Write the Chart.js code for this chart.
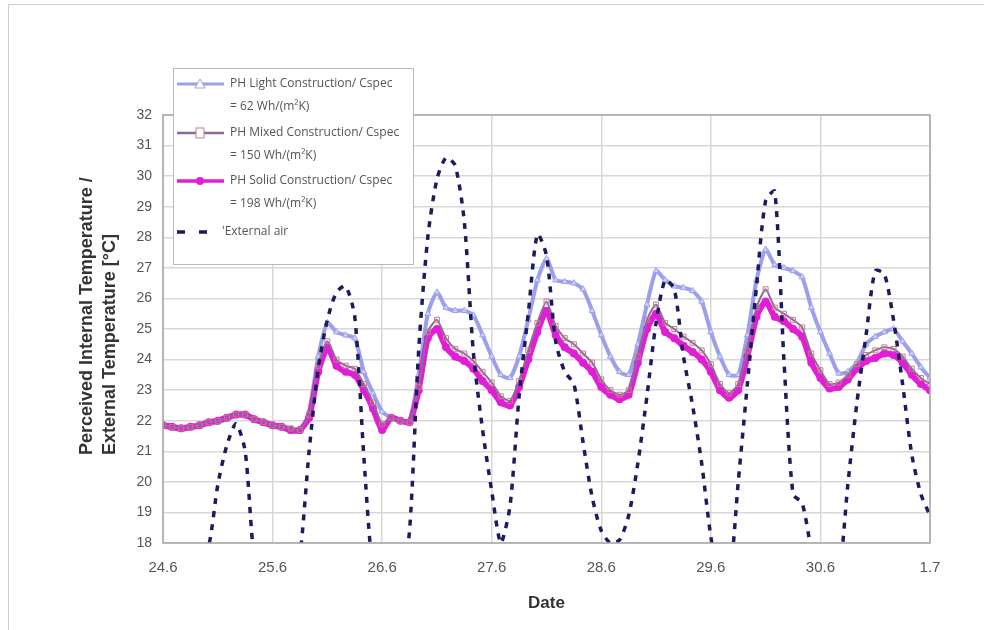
<!DOCTYPE html>
<html>
<head>
<meta charset="utf-8">
<script src="https://cdn.jsdelivr.net/npm/chart.js@4.4.0/dist/chart.umd.min.js"></script>
<style>
  html, body { margin: 0; padding: 0; background: #fff; }
  #wrap { position: relative; width: 984px; height: 630px; }
</style>
</head>
<body>
<div id="wrap"><canvas id="c" width="984" height="630"></canvas></div>
<script>
// date ticks, one per day
const dateLabels = ['24.6', '25.6', '26.6', '27.6', '28.6', '29.6', '30.6', '1.7'];

// readings every 2 hours, 24.6 00:00 .. 1.7 00:00
const lightC = [21.8, 21.75, 21.7, 21.75, 21.8, 21.9, 21.95, 22.05, 22.15, 22.15, 22.0, 21.9,
  21.8, 21.75, 21.65, 21.65, 22.3, 24.1, 25.2, 24.9, 24.8, 24.7, 23.6, 22.9,
  22.3, 22.1, 22.0, 22.0, 23.5, 25.5, 26.2, 25.7, 25.6, 25.6, 25.45, 24.8,
  24.1, 23.5, 23.4, 24.1, 25.3, 26.6, 27.3, 26.6, 26.55, 26.5, 26.3, 25.6,
  24.8, 24.1, 23.6, 23.5, 24.5, 25.8, 26.9, 26.6, 26.4, 26.35, 26.25, 25.9,
  24.9, 24.1, 23.5, 23.5, 24.8, 26.6, 27.6, 27.1, 27.0, 26.9, 26.7, 25.7,
  24.9, 24.2, 23.55, 23.6, 23.9, 24.5, 24.75, 24.9, 25.0, 24.6, 24.2, 23.75, 23.4];

const mixedC = [21.85, 21.8, 21.75, 21.8, 21.85, 21.95, 22.0, 22.1, 22.2, 22.2, 22.05, 21.95,
  21.85, 21.8, 21.75, 21.7, 22.2, 23.8, 24.6, 24.0, 23.8, 23.7, 23.2, 22.6,
  21.9, 22.1, 22.0, 21.95, 23.1, 24.9, 25.3, 24.7, 24.35, 24.2, 23.95, 23.6,
  23.25, 22.8, 22.65, 23.3, 24.3, 25.2, 25.9, 25.1, 24.7, 24.5, 24.2, 23.9,
  23.35, 23.0, 22.85, 23.0, 24.1, 25.3, 25.8, 25.2, 25.0, 24.75, 24.55, 24.3,
  23.85, 23.2, 22.9, 23.2, 24.3, 25.7, 26.3, 25.7, 25.5, 25.3, 25.05, 24.2,
  23.65, 23.2, 23.25, 23.5, 23.85, 24.15, 24.3, 24.4, 24.35, 24.1, 23.7, 23.4, 23.2];

const solidC = [21.85, 21.8, 21.75, 21.8, 21.85, 21.95, 22.0, 22.1, 22.2, 22.2, 22.05, 21.95,
  21.85, 21.8, 21.7, 21.7, 22.1, 23.6, 24.4, 23.8, 23.6, 23.5, 23.0, 22.4,
  21.7, 22.1, 22.0, 21.95, 23.0, 24.7, 25.0, 24.4, 24.1, 23.95, 23.7, 23.3,
  23.0, 22.6, 22.5, 23.1, 24.0, 24.9, 25.6, 24.8, 24.4, 24.2, 23.9, 23.6,
  23.1, 22.85, 22.7, 22.85, 23.9, 25.0, 25.5, 24.9, 24.7, 24.45, 24.25, 24.0,
  23.6, 23.0, 22.75, 23.0, 24.1, 25.4, 25.9, 25.4, 25.25, 25.0, 24.75, 23.9,
  23.4, 23.05, 23.1, 23.35, 23.7, 23.95, 24.05, 24.2, 24.15, 23.9, 23.5, 23.2, 23.0];

const extAir = [16.0, 16.2, 16.6, 17.0, 17.5, 17.9, 19.9, 21.2, 21.9, 21.0, 17.5, 16.8,
  16.3, 16.0, 16.3, 17.6, 21.0, 23.7, 25.3, 26.2, 26.4, 25.4, 20.8, 17.0,
  16.0, 15.8, 16.5, 18.4, 24.3, 28.0, 29.9, 30.6, 30.35, 28.5, 24.2, 21.7,
  19.7, 18.0, 19.2, 22.8, 25.5, 28.1, 27.4, 24.6, 23.6, 23.2, 21.3, 19.5,
  18.4, 18.0, 18.1, 18.9, 20.6, 22.8, 25.2, 26.6, 26.3, 24.1, 22.5, 20.6,
  18.2, 16.8, 16.8, 20.0, 23.2, 26.4, 29.2, 29.5, 24.0, 19.6, 19.3, 17.8,
  16.8, 16.2, 16.8, 19.9, 22.6, 24.8, 26.9, 26.8, 25.3, 23.2, 20.9, 19.6, 18.9];

const seriesNames = [
  ['PH Light Construction/ Cspec', '= 62 Wh/(m²K)'],
  ['PH Mixed Construction/ Cspec', '= 150 Wh/(m²K)'],
  ['PH Solid Construction/ Cspec', '= 198 Wh/(m²K)'],
  ["'External air"]
];

const toXY = (arr) => arr.map((v, i) => ({ x: i / 12, y: v }));

const colors = {
  light: '#9ca0ec',
  mixed: '#8c6c96',
  mixedPt: '#c77a8c',
  solid: '#e11ed6',
  air: '#1c1c5c'
};

// frame, titles and legend box
const decorPlugin = {
  id: 'decor',
  beforeDraw(chart) {
    const { ctx } = chart;
    ctx.save();
    ctx.strokeStyle = '#cfcfcf';
    ctx.lineWidth = 1;
    ctx.beginPath();
    ctx.moveTo(8.5, 630);
    ctx.lineTo(8.5, 4.5);
    ctx.lineTo(984, 4.5);
    ctx.stroke();
    ctx.restore();
  },
  afterDraw(chart) {
    const { ctx, chartArea: { left, right, top, bottom } } = chart;
    ctx.save();

    ctx.strokeStyle = '#a8a8a8';
    ctx.lineWidth = 1.5;
    ctx.strokeRect(left, top, right - left, bottom - top);

    // axis titles
    ctx.fillStyle = '#333';
    ctx.font = 'bold 17px "Liberation Sans", Arial, sans-serif';
    ctx.textAlign = 'center';
    ctx.textBaseline = 'middle';
    ctx.fillText('Date', (left + right) / 2, 603);

    ctx.save();
    ctx.font = 'bold 18px "Liberation Sans", Arial, sans-serif';
    ctx.translate(0, 455);
    ctx.rotate(-Math.PI / 2);
    ctx.textAlign = 'left';
    ctx.fillText('Perceived Internal Temperature /', 0, 87);
    ctx.fillText('External Temperature [°C]', 0, 110);
    ctx.restore();

    // legend
    const bx = 173, by = 68, bw = 240, bh = 196;
    ctx.fillStyle = '#fff';
    ctx.fillRect(bx, by, bw, bh);
    ctx.strokeStyle = '#b8b8b8';
    ctx.lineWidth = 1;
    ctx.strokeRect(bx + 0.5, by + 0.5, bw, bh);

    const rows = [84, 133, 181, 232];
    const lx0 = 177, lx1 = 224, mx = 200;
    ctx.font = '12px "Open Sans", "DejaVu Sans", sans-serif';
    ctx.textAlign = 'left';
    ctx.textBaseline = 'middle';

    // light
    ctx.strokeStyle = colors.light;
    ctx.lineWidth = 3;
    ctx.beginPath(); ctx.moveTo(lx0, rows[0]); ctx.lineTo(lx1, rows[0]); ctx.stroke();
    ctx.lineWidth = 1;
    ctx.beginPath();
    ctx.moveTo(mx, rows[0] - 5); ctx.lineTo(mx + 5, rows[0] + 4); ctx.lineTo(mx - 5, rows[0] + 4); ctx.closePath();
    ctx.fillStyle = '#fff'; ctx.fill(); ctx.stroke();

    // mixed
    ctx.strokeStyle = colors.mixed;
    ctx.lineWidth = 2.5;
    ctx.beginPath(); ctx.moveTo(lx0, rows[1]); ctx.lineTo(lx1, rows[1]); ctx.stroke();
    ctx.lineWidth = 1;
    ctx.strokeStyle = colors.mixedPt;
    ctx.fillStyle = '#fff';
    ctx.fillRect(mx - 4, rows[1] - 5, 8, 10);
    ctx.strokeRect(mx - 4, rows[1] - 5, 8, 10);

    // solid
    ctx.strokeStyle = colors.solid;
    ctx.lineWidth = 3.5;
    ctx.beginPath(); ctx.moveTo(lx0, rows[2]); ctx.lineTo(lx1, rows[2]); ctx.stroke();
    ctx.fillStyle = colors.solid;
    ctx.beginPath(); ctx.arc(mx, rows[2], 4, 0, Math.PI * 2); ctx.fill();

    // external air
    ctx.strokeStyle = colors.air;
    ctx.lineWidth = 3.5;
    ctx.beginPath();
    ctx.moveTo(177, rows[3]); ctx.lineTo(185, rows[3]);
    ctx.moveTo(199, rows[3]); ctx.lineTo(207, rows[3]);
    ctx.stroke();

    ctx.fillStyle = '#555';
    seriesNames.forEach((lines, i) => {
      const tx = i === 3 ? 222 : 230;
      lines.forEach((t, j) => ctx.fillText(t, tx, rows[i] + j * 23));
    });

    ctx.restore();
  }
};

new Chart(document.getElementById('c'), {
  type: 'line',
  data: {
    datasets: [
      {
        label: seriesNames[0].join(' '),
        data: toXY(lightC),
        borderColor: colors.light,
        borderWidth: 4,
        pointStyle: 'triangle',
        pointRadius: 3.5,
        pointBorderWidth: 1,
        pointBorderColor: colors.light,
        pointBackgroundColor: 'rgba(255,255,255,0.5)',
        tension: 0.2,
        order: 3
      },
      {
        label: seriesNames[1].join(' '),
        data: toXY(mixedC),
        borderColor: colors.mixed,
        borderWidth: 2,
        pointStyle: 'rect',
        pointRadius: 3.5,
        pointBorderWidth: 1,
        pointBorderColor: colors.mixedPt,
        pointBackgroundColor: 'rgba(255,255,255,0)',
        tension: 0.2,
        order: 1
      },
      {
        label: seriesNames[2].join(' '),
        data: toXY(solidC),
        borderColor: colors.solid,
        borderWidth: 6,
        pointStyle: 'circle',
        pointRadius: 4,
        pointBorderWidth: 0,
        pointBackgroundColor: colors.solid,
        tension: 0.2,
        order: 2
      },
      {
        label: seriesNames[3][0],
        data: toXY(extAir),
        borderColor: colors.air,
        borderWidth: 3.5,
        borderDash: [6, 7],
        pointRadius: 0,
        tension: 0.25,
        order: 0
      }
    ]
  },
  options: {
    responsive: false,
    animation: false,
    events: [],
    layout: { padding: { left: 0, top: 115, right: 54, bottom: 0 } },
    plugins: {
      legend: { display: false },
      tooltip: { enabled: false }
    },
    scales: {
      x: {
        type: 'linear',
        min: 0,
        max: 7,
        afterFit: (s) => { s.height = 87; },
        afterBuildTicks: (s) => { s.ticks = dateLabels.map((_, i) => ({ value: i })); },
        ticks: {
          callback: (v) => dateLabels[v],
          padding: 16,
          color: '#555',
          font: { family: '"Liberation Sans", Arial, sans-serif', size: 15 },
          maxRotation: 0
        },
        grid: { color: '#d8d8d8', lineWidth: 1.5, drawTicks: false },
        border: { display: false }
      },
      y: {
        min: 18,
        max: 32,
        afterFit: (s) => { s.width = 163; },
        ticks: {
          stepSize: 1,
          padding: 11,
          color: '#555',
          font: { family: '"Liberation Sans", Arial, sans-serif', size: 14 }
        },
        grid: { color: '#d8d8d8', lineWidth: 1.5, drawTicks: false },
        border: { display: false }
      }
    }
  },
  plugins: [decorPlugin]
});
</script>
</body>
</html>
